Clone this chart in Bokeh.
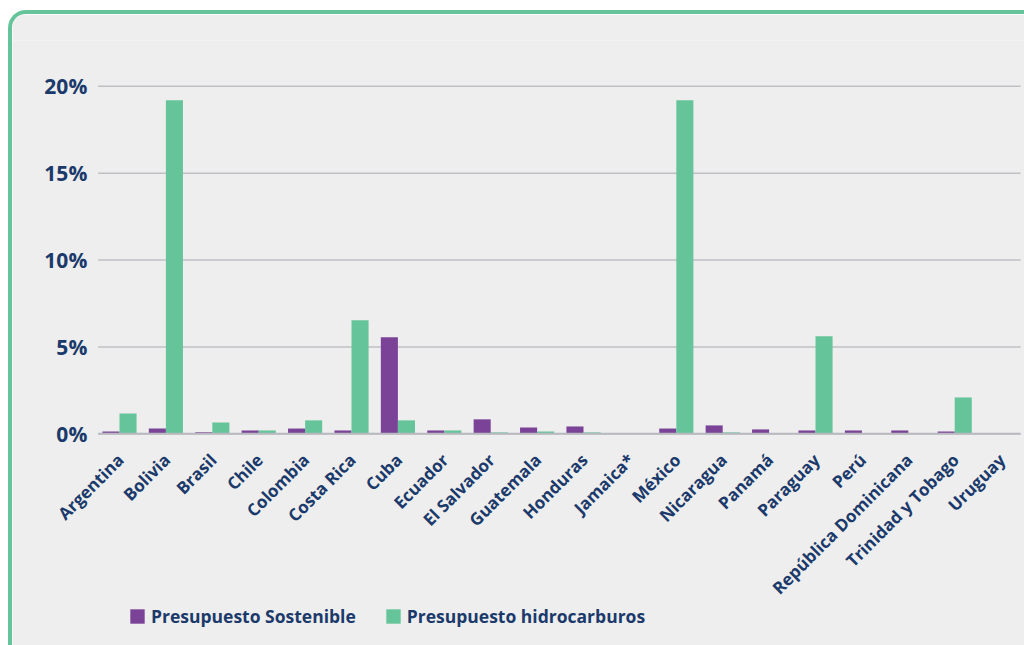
import math
from bokeh.plotting import figure
from bokeh.models import Range1d, Legend, LegendItem, ColumnDataSource
from bokeh.core.properties import value
from bokeh.transform import dodge
from bokeh.embed import file_html
from bokeh.resources import INLINE

countries = ["Argentina", "Bolivia", "Brasil", "Chile", "Colombia", "Costa Rica",
             "Cuba", "Ecuador", "El Salvador", "Guatemala", "Honduras", "Jamaica*",
             "México", "Nicaragua", "Panamá", "Paraguay", "Perú",
             "República Dominicana", "Trinidad y Tobago", "Uruguay"]
sostenible = [0.13, 0.30, 0.08, 0.19, 0.30, 0.19, 5.55, 0.19, 0.83, 0.36, 0.42, 0.0,
              0.30, 0.48, 0.25, 0.19, 0.19, 0.19, 0.13, 0.0]
hidrocarburos = [1.17, 19.2, 0.65, 0.19, 0.77, 6.53, 0.77, 0.19, 0.08, 0.13, 0.08, 0.0,
                 19.2, 0.08, 0.0, 5.61, 0.0, 0.0, 2.09, 0.0]
y_ticks = [0, 5, 10, 15, 20]
y_tick_labels = ["0%", "5%", "10%", "15%", "20%"]
series_names = ["Presupuesto Sostenible", "Presupuesto hidrocarburos"]

NAVY = "#1B3A6B"
PURPLE = "#7B4397"
GREEN = "#66C49A"
BG = "#EDEEED"
GRID = "#BFC0C4"
FONT = "Open Sans"

n = len(countries)
source = ColumnDataSource(dict(idx=list(range(n)), country=countries,
                               sost=sostenible, hidro=hidrocarburos, base=[0] * n))
ysrc = ColumnDataSource(dict(y=y_ticks, label=y_tick_labels))

p = figure(x_range=Range1d(-2.306, 19.504), y_range=Range1d(-12.19, 22.64),
           width=1012, height=631, frame_width=1012, frame_height=605,
           x_axis_location=None, y_axis_location=None,
           output_backend="svg", toolbar_location=None,
           min_border_left=0, min_border_top=26, min_border_right=0,
           min_border_bottom=0)
p.background_fill_color = BG
p.border_fill_color = BG
p.outline_line_color = None
p.grid.visible = False
p.styles = {"border-top": f"4px solid {GREEN}", "border-left": f"4px solid {GREEN}",
            "border-top-left-radius": "18px", "margin-top": "10px",
            "margin-left": "8px", "overflow": "hidden"}

# horizontal grid lines at the y ticks
p.segment(x0=-0.46, x1=19.42, y0="y", y1="y", source=ysrc,
          line_color=GRID, line_width=1.5)

bw = 0.368
r1 = p.vbar(x=dodge("idx", -bw / 2), top="sost", width=bw,
            source=source, fill_color=PURPLE, line_color=None)
r2 = p.vbar(x=dodge("idx", bw / 2), top="hidro", width=bw,
            source=source, fill_color=GREEN, line_color=None)

# baseline (x axis line)
p.segment(x0=-0.46, x1=19.42, y0="base", y1="base",
          source=ColumnDataSource(dict(base=[0])),
          line_color="#B8B9BF", line_width=2)

# y tick labels
p.text(x=-0.5, y="y", text="label", source=ysrc, x_offset=-9,
       text_align="right", text_baseline="middle",
       text_font=value(FONT), text_font_style="bold", text_font_size="21px",
       text_color=NAVY)

# category labels along the baseline, rotated 45 degrees
p.text(x=dodge("idx", 0.02), y="base", text="country",
       source=source, angle=math.pi / 4, y_offset=23,
       text_align="right", text_baseline="middle",
       text_font=value(FONT), text_font_style="bold", text_font_size="17px",
       text_color=NAVY)

legend = Legend(items=[LegendItem(label=series_names[0], renderers=[r1]),
                       LegendItem(label=series_names[1], renderers=[r2])],
                orientation="horizontal", location=(116, 17),
                background_fill_alpha=0, border_line_color=None,
                label_text_font=FONT, label_text_font_style="bold",
                label_text_font_size="17.5px", label_text_color=NAVY,
                glyph_width=18, glyph_height=18, label_standoff=5,
                spacing=28, padding=4, margin=0)
p.add_layout(legend, "center")

open("out.html", "w").write(file_html(p, INLINE))
